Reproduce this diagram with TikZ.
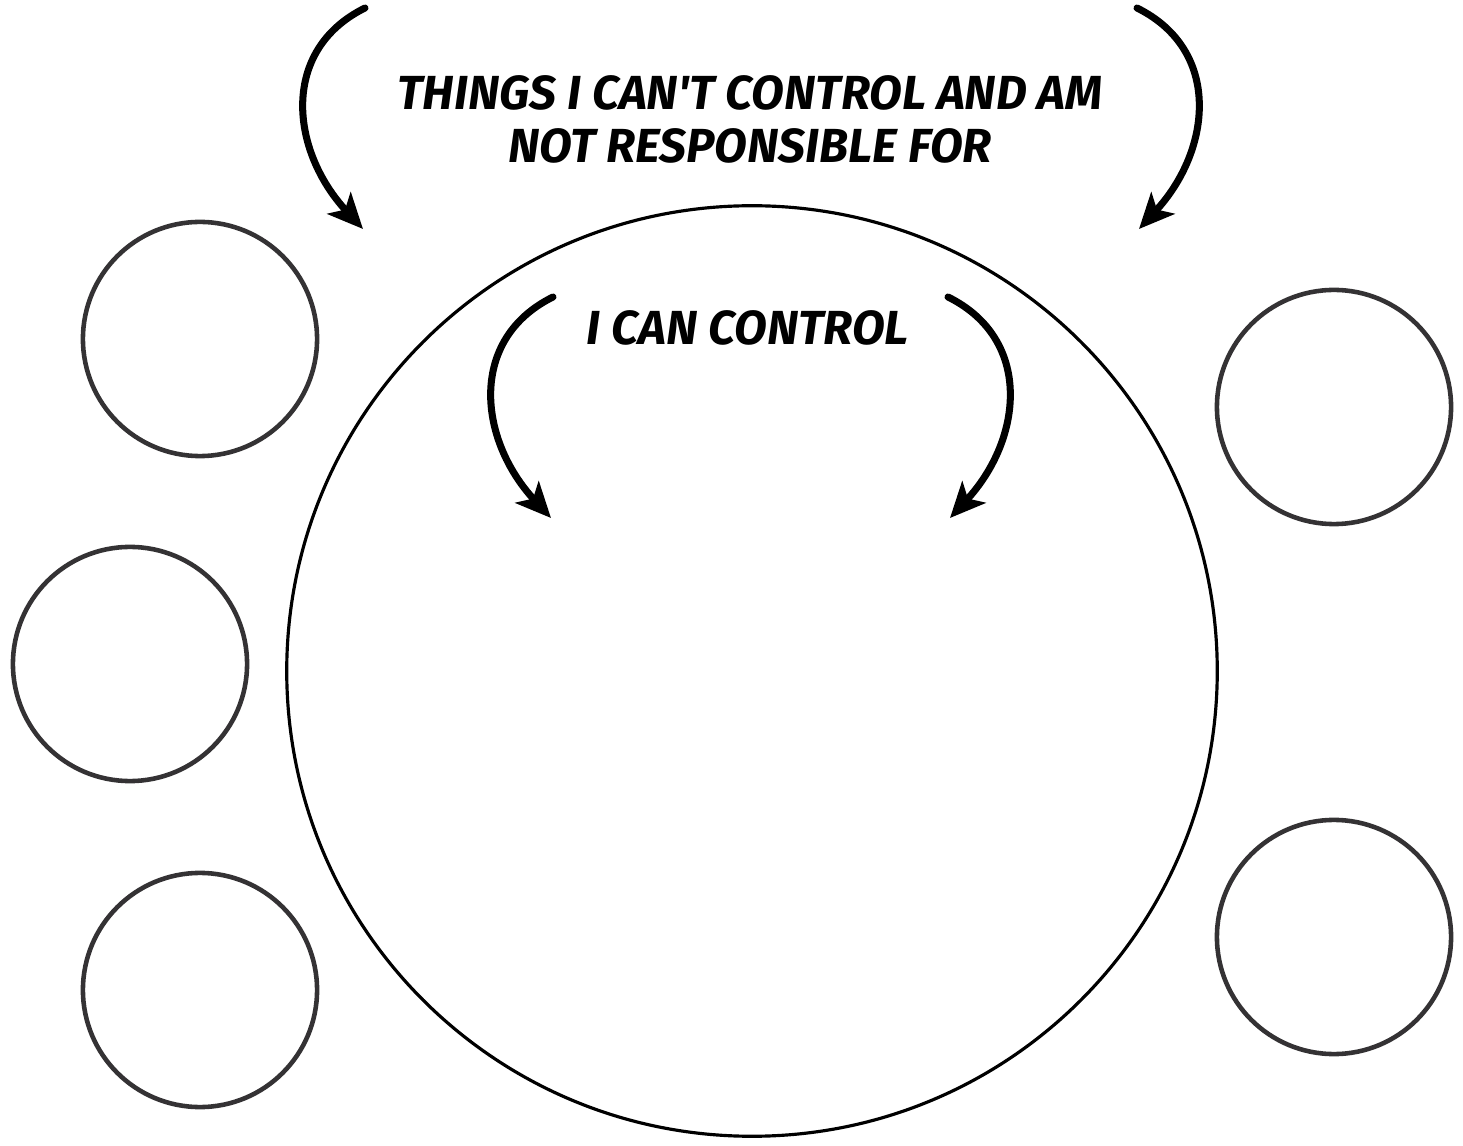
\documentclass[tikz,border=0pt]{standalone}
\usepackage{fontspec}
\newfontfamily\handfont{Fira Sans}
\usepackage{tikz}
\usetikzlibrary{arrows.meta,positioning}
\definecolor{ringgrey}{RGB}{52,50,52}
\tikzset{
    sketcharrow/.style={
        line width=2pt,
        black,
        line cap=round,
        -{Stealth[length=10pt, width=9pt, inset=2.5pt]}
    },
    % rings round the centre
    smallring/.style={
        circle, draw=ringgrey, line width=1.3pt,
        minimum size=2.34cm, inner sep=0pt
    },
    bigring/.style={
        circle, draw=black, line width=0.9pt,
        minimum size=9.3cm, inner sep=0pt
    },
    headtext/.style={
        inner sep=0pt,
        font=\handfont\bfseries\itshape\fontsize{13.6}{14}\selectfont
    }
}
\begin{document}
\begin{tikzpicture}[x=0.01cm,y=-0.01cm]
    \useasboundingbox (0,0) rectangle (1463,1146);
    \node[bigring] (mid) at (752,671) {};
    \node[smallring] (l1) at (200,339) {};
    \node[smallring] (l2) at (130,664) {};
    \node[smallring] (l3) at (200,990) {};
    \node[smallring] (r1) at (1334,407) {};
    \node[smallring] (r2) at (1334,937) {};
    \path
    (365,8) coordinate (oa1) (363,229) coordinate (oa2)
    (1137,8) coordinate (ob1) (1139,229) coordinate (ob2)
    (553,297) coordinate (ia1) (551,518) coordinate (ia2)
    (948,297) coordinate (ib1) (950,518) coordinate (ib2);
    \draw[sketcharrow] (oa1) .. controls (280,50) and (290,150) .. (oa2);
    \draw[sketcharrow] (ob1) .. controls (1222,50) and (1212,150) .. (ob2);
    \draw[sketcharrow] (ia1) .. controls (468,339) and (478,439) .. (ia2);
    \draw[sketcharrow] (ib1) .. controls (1033,339) and (1023,439) .. (ib2);

    \node[headtext] (title1) at (750,93) {THINGS I CAN'T CONTROL AND AM};
    \node[headtext, below=0.17cm of title1] (title2) {NOT RESPONSIBLE FOR};
    \node[headtext] (inlabel) at (748,328) {I CAN CONTROL};
\end{tikzpicture}
\end{document}
